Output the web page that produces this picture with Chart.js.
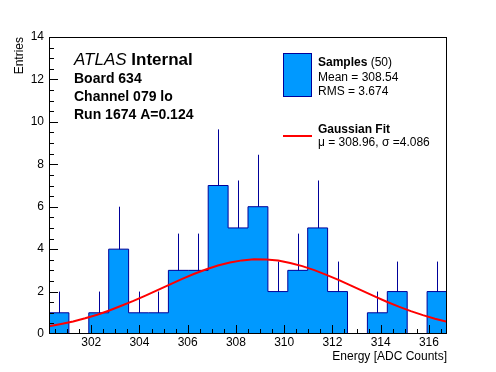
<!DOCTYPE html>
<html>
<head>
<meta charset="utf-8">
<script src="https://cdn.jsdelivr.net/npm/chart.js@4.4.1/dist/chart.umd.min.js"></script>
<style>
  html, body { margin: 0; padding: 0; background: #fff; }
</style>
</head>
<body>
<canvas id="myChart" width="496" height="372"></canvas>
<script>
// histogram: 20 bins between binLow and binHigh
const binLow = 300.25;
const binHigh = 316.75;
const counts = [1, 0, 1, 4, 1, 1, 3, 3, 7, 5, 6, 2, 3, 5, 2, 0, 1, 2, 0, 2];

// gaussian fit curve
const fitX = [300.25, 300.75, 301.25, 301.75, 302.25, 302.75, 303.25, 303.75, 304.25, 304.75,
              305.25, 305.75, 306.25, 306.75, 307.25, 307.75, 308.25, 308.75, 309.25, 309.75,
              310.25, 310.75, 311.25, 311.75, 312.25, 312.75, 313.25, 313.75, 314.25, 314.75,
              315.25, 315.75, 316.25, 316.75];
const fitY = [0.36, 0.47, 0.59, 0.74, 0.91, 1.11, 1.33, 1.56, 1.81, 2.07,
              2.33, 2.59, 2.83, 3.04, 3.23, 3.37, 3.47, 3.52, 3.51, 3.46,
              3.35, 3.20, 3.01, 2.79, 2.55, 2.29, 2.03, 1.77, 1.52, 1.29,
              1.08, 0.89, 0.72, 0.57];

const xTicks = [302, 304, 306, 308, 310, 312, 314, 316];
const yTicks = [0, 2, 4, 6, 8, 10, 12, 14];

const infoLines = ['Board 634', 'Channel 079 lo', 'Run 1674 A=0.124'];

const FONT = "'Liberation Sans', Arial, Helvetica, sans-serif";
const navy = '#000099';
const azure = '#0099ff';

const binW = (binHigh - binLow) / counts.length;
const histData = counts.map((c, i) => ({x: binLow + i * binW, y: c}));
histData.push({x: binHigh, y: counts[counts.length - 1]});

// sqrt(N) error bars, drawn under the histogram fill
const errorBars = {
  id: 'errorBars',
  beforeDatasetsDraw(chart) {
    const {ctx, scales: {x, y}} = chart;
    ctx.save();
    ctx.strokeStyle = navy;
    ctx.lineWidth = 1;
    counts.forEach((c, i) => {
      if (!c) return;
      const px = Math.round(x.getPixelForValue(binLow + (i + 0.5) * binW)) + 0.5;
      ctx.beginPath();
      ctx.moveTo(px, y.getPixelForValue(c - Math.sqrt(c)));
      ctx.lineTo(px, y.getPixelForValue(c + Math.sqrt(c)));
      ctx.stroke();
    });
    ctx.restore();
  }
};

// ROOT style frame with ticks pointing inward
const frame = {
  id: 'frame',
  afterDatasetsDraw(chart) {
    const {ctx, chartArea: a, scales: {x, y}} = chart;
    ctx.save();
    ctx.strokeStyle = '#000';
    ctx.lineWidth = 1;
    ctx.strokeRect(a.left + 0.5, a.top + 0.5, a.right - a.left - 1, a.bottom - a.top - 1);
    ctx.beginPath();
    for (let v = 300.5; v < binHigh; v += 0.5) {
      const px = Math.round(x.getPixelForValue(v)) + 0.5;
      const len = v % 2 === 0 ? 9 : 5;
      ctx.moveTo(px, a.bottom);
      ctx.lineTo(px, a.bottom - len);
    }
    for (let v = 0.5; v < 14; v += 0.5) {
      const py = Math.round(y.getPixelForValue(v)) + 0.5;
      const len = v % 2 === 0 ? 9 : 5;
      ctx.moveTo(a.left, py);
      ctx.lineTo(a.left + len, py);
    }
    ctx.stroke();
    ctx.restore();
  }
};

const labels = {
  id: 'labels',
  afterDraw(chart) {
    const ctx = chart.ctx;
    ctx.save();
    ctx.fillStyle = '#000';
    ctx.textBaseline = 'alphabetic';
    ctx.textAlign = 'left';

    ctx.font = 'italic 17px ' + FONT;
    ctx.fillText('ATLAS', 74, 65);
    const w = ctx.measureText('ATLAS ').width;
    ctx.font = 'bold 17px ' + FONT;
    ctx.fillText('Internal', 74 + w, 65);

    ctx.font = 'bold 14px ' + FONT;
    infoLines.forEach((t, i) => ctx.fillText(t, 74, 83 + i * 18));

    // legend
    ctx.fillStyle = azure;
    ctx.fillRect(283, 53, 29, 44);
    ctx.strokeStyle = navy;
    ctx.lineWidth = 1;
    ctx.strokeRect(283.5, 53.5, 28, 43);

    ctx.fillStyle = '#000';
    ctx.font = 'bold 12px ' + FONT;
    ctx.fillText('Samples', 318, 66);
    const sw = ctx.measureText('Samples').width;
    ctx.font = '12px ' + FONT;
    ctx.fillText(' (50)', 318 + sw, 66);
    ctx.fillText('Mean = 308.54', 318, 81);
    ctx.fillText('RMS = 3.674', 318, 94.5);

    ctx.strokeStyle = '#ff0000';
    ctx.lineWidth = 2;
    ctx.beginPath();
    ctx.moveTo(283, 136);
    ctx.lineTo(312, 136);
    ctx.stroke();

    ctx.font = 'bold 12px ' + FONT;
    ctx.fillText('Gaussian Fit', 318, 133);
    ctx.font = '12px ' + FONT;
    ctx.fillText('\u03bc = 308.96, \u03c3 =4.086', 318, 146);
    ctx.restore();
  }
};

new Chart(document.getElementById('myChart'), {
  type: 'line',
  data: {
    datasets: [
      {
        label: 'Gaussian Fit',
        data: fitX.map((v, i) => ({x: v, y: fitY[i]})),
        borderColor: '#ff0000',
        borderWidth: 2,
        pointRadius: 0,
        fill: false
      },
      {
        label: 'Samples',
        data: histData,
        stepped: true,
        borderColor: navy,
        borderWidth: 1,
        backgroundColor: azure,
        fill: 'origin',
        pointRadius: 0
      }
    ]
  },
  options: {
    responsive: false,
    animation: false,
    layout: {padding: {top: 37, right: 49, left: 0, bottom: 0}},
    plugins: {legend: {display: false}, tooltip: {enabled: false}},
    scales: {
      x: {
        type: 'linear',
        min: binLow,
        max: binHigh,
        grid: {display: false, drawTicks: false},
        border: {display: false},
        afterBuildTicks: s => { s.ticks = xTicks.map(v => ({value: v})); },
        afterFit: s => { s.height = 38; },
        ticks: {padding: 1, autoSkip: false, maxRotation: 0, color: '#000', font: {family: FONT, size: 12}},
        title: {display: true, text: 'Energy [ADC Counts]', align: 'end', color: '#000',
                font: {family: FONT, size: 12}, padding: {bottom: 8}}
      },
      y: {
        min: 0,
        max: 14,
        grid: {display: false, drawTicks: false},
        border: {display: false},
        afterBuildTicks: s => { s.ticks = yTicks.map(v => ({value: v})); },
        afterFit: s => { s.width = 49; },
        ticks: {padding: 5, autoSkip: false, color: '#000', font: {family: FONT, size: 12}},
        title: {display: true, text: 'Entries', align: 'end', color: '#000',
                font: {family: FONT, size: 12}, padding: {top: 12}}
      }
    }
  },
  plugins: [errorBars, frame, labels]
});
</script>
</body>
</html>
